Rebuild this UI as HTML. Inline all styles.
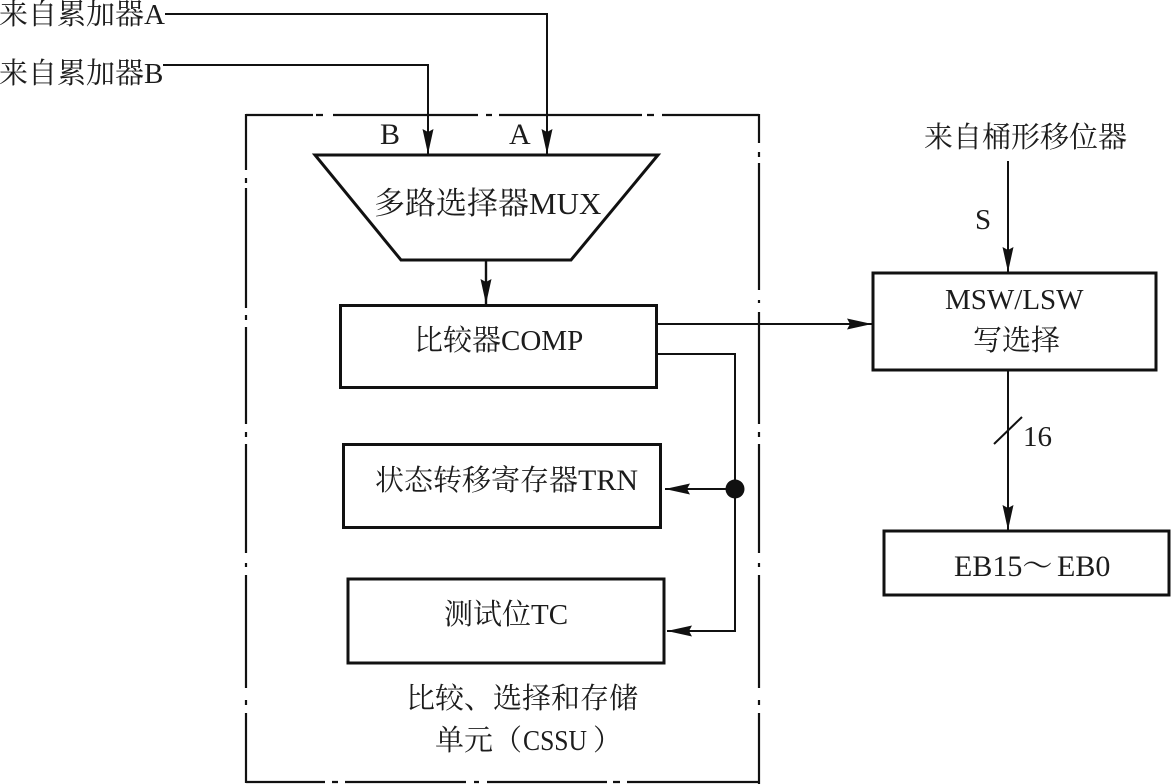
<!DOCTYPE html>
<html>
<head>
<meta charset="utf-8">
<style>
html,body{margin:0;padding:0;background:#fff;width:1171px;height:784px;overflow:hidden}
svg{display:block}
text{font-family:"Liberation Serif","Noto Serif CJK SC",serif;font-size:29px;fill:#1c1c1c}
</style>
</head>
<body>
<svg width="1171" height="784" viewBox="0 0 1171 784" xmlns="http://www.w3.org/2000/svg">
<defs>
<marker id="a" markerUnits="userSpaceOnUse" markerWidth="26" markerHeight="12" refX="25" refY="6" orient="auto">
<path d="M0 .5L25 6L0 11.500L3 6Z" fill="#111"/>
</marker>
</defs>
<g fill="none" stroke="#111" stroke-width="2">
<path stroke-width="2.200" d="M246 115H313M316 115H323M333 115H478M486 115H492M499 115H642M647 115H654M662 115H759
M246 114V170M246 178V183M246 188V308M246 315V320M246 327V424M246 432V437M246 444V553M246 563V567M246 575V688M246 700V705M246 713V783
M759 114V143M759 152V157M759 163V290M759 300V303M759 312V424M759 432V437M759 444V553M759 563V567M759 575V688M759 700V705M759 713V784
M246 782H325M332 782H338M345 782H466M474 782H479M487 782H607M613 782H620M627 782H759"/>
<path d="M165 14H547V154" marker-end="url(#a)"/>
<path d="M163 65H428V154" marker-end="url(#a)"/>
<path d="M315 155H658L571 260H401Z" stroke-width="3"/>
<path d="M486 261V304" stroke-width="2.400" marker-end="url(#a)"/>
<rect x="340.500" y="305.500" width="316" height="82" stroke-width="3"/>
<rect x="343.500" y="444.500" width="317" height="83" stroke-width="3"/>
<rect x="348" y="579" width="316" height="84" stroke-width="3"/>
<rect x="873" y="273" width="283" height="97" stroke-width="3"/>
<rect x="884" y="531" width="285" height="64" stroke-width="3"/>
<path d="M657 324H872" marker-end="url(#a)"/>
<path d="M657 354H735V631H667" marker-end="url(#a)"/>
<path d="M735 489H665" marker-end="url(#a)"/>
<path d="M1008 161V272" marker-end="url(#a)"/>
<path d="M1008 371V530" marker-end="url(#a)"/>
<path d="M994 444L1022 417"/>
</g>
<circle cx="735" cy="489" r="9.500" fill="#111"/>
<text x="-1" y="24">来自累加器A</text>
<text x="-1" y="83">来自累加器B</text>
<text x="380" y="144" style="font-size:30px">B</text>
<text x="509" y="144" style="font-size:30px">A</text>
<text x="374" y="214" style="font-size:31px">多路选择器MUX</text>
<text x="414" y="350">比较器COMP</text>
<text x="375" y="490">状态转移寄存器<tspan style="font-size:30px">TRN</tspan></text>
<text x="444" y="624">测试位TC</text>
<text x="406" y="708">比较、选择和存储</text>
<text x="435" y="750">单元（</text>
<text x="523" y="750" textLength="64" lengthAdjust="spacingAndGlyphs">CSSU</text>
<text x="593" y="750">）</text>
<text x="924" y="147">来自桶形移位器</text>
<text x="975" y="229">S</text>
<text x="945" y="309">MSW/LSW</text>
<text x="973" y="350">写选择</text>
<text x="1023" y="446">16</text>
<text x="954" y="576" style="font-size:30px">EB15～<tspan x="1057">EB0</tspan></text>
</svg>
</body>
</html>
